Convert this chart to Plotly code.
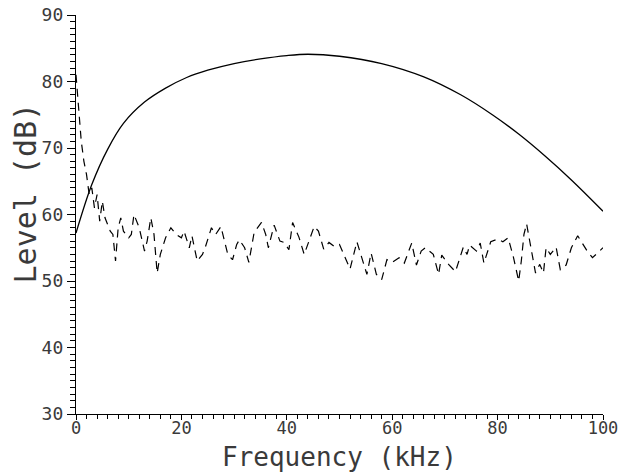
import plotly.graph_objects as go

# Solid curve (signal level)
sig_freq = [0, 3, 6, 9, 13, 17, 21, 25, 30, 35, 40, 44, 50, 58, 66, 73, 79, 84, 89, 94, 100]
sig_level = [57.2, 64.5, 69.8, 73.7, 76.9, 79.0, 80.6, 81.7, 82.7, 83.4, 83.9, 84.1, 83.8,
             82.7, 80.7, 78.0, 75.0, 72.1, 68.8, 65.2, 60.5]

# Dashed curve (noise level)
noise_freq = [0, 0.5, 1, 1.5, 2, 2.5, 3, 3.5, 4, 4.5, 5, 5.5, 6, 6.5, 7, 7.5, 8, 8.5, 9, 10,
              10.5, 11, 12, 13, 13.5, 14.2, 14.8, 15.4, 16, 17, 18, 19, 20, 20.5, 21.5, 22,
              23, 24, 24.5, 25.7, 26.5, 27.5, 28.8, 29.7, 30.5, 31, 32, 32.8, 33.8, 35.2, 36,
              36.5, 37.6, 38.7, 39.5, 40.4, 41.1, 42.3, 43.3, 44.2, 45.2, 46, 47, 48, 49, 50,
              51, 52, 53.3, 54.5, 55.2, 56, 57, 58, 59, 60, 61.3, 62.3, 63.7, 64.6, 65.5, 66.3,
              67.8, 68.8, 69.4, 70.7, 72, 73.5, 74.2, 74.7, 76, 76.7, 77.4, 78.7, 80, 81, 82,
              83, 84, 84.5, 85, 85.5, 86.5, 87.2, 88, 88.7, 89.2, 90, 91.1, 91.9, 93, 94, 95.2,
              96, 97, 98, 99, 100]
noise_level = [81, 76, 71, 68, 66, 63, 64, 61, 63, 59, 62, 59.5, 58.5, 57.5, 57, 53, 58, 59.5,
               57.5, 56.5, 57, 60, 58, 54.5, 56, 59.5, 57, 51.2, 54, 56.5, 58, 57, 56.5, 57.5,
               55, 56.8, 53, 54, 55, 58, 57, 58.2, 54, 53.2, 55.5, 56.2, 55, 52.8, 57.3, 58.8,
               57, 55, 58.4, 56, 55.8, 54.7, 58.8, 56.6, 54, 55.9, 58.2, 57.5, 54.8, 55.8, 55.2,
               55.5, 53.5, 51.8, 55.9, 52.7, 51, 54.2, 51, 50.2, 53.2, 52.8, 53.5, 52.7, 55.7,
               52.4, 54.5, 55, 54, 51, 53.9, 52.5, 51.4, 55.1, 54, 55.4, 54.5, 55.7, 52.7, 55.9,
               56.3, 55.9, 56.5, 53.6, 50, 53, 57, 58.6, 54, 51.2, 52.5, 51.2, 55, 54, 55.1,
               51.7, 52.4, 55, 56.8, 55.7, 54.5, 53.5, 54.2, 55]

x_ticks = [0, 20, 40, 60, 80, 100]
y_ticks = [30, 40, 50, 60, 70, 80, 90]
x_title = "Frequency (kHz)"
y_title = "Level (dB)"

FONT = "DejaVu Sans Mono"
TXT = "#3a3a3a"

fig = go.Figure()
fig.add_trace(go.Scatter(x=sig_freq, y=sig_level, mode="lines",
                         line=dict(color="black", width=1.3, shape="spline", smoothing=1.0),
                         showlegend=False, hoverinfo="skip"))
fig.add_trace(go.Scatter(x=noise_freq, y=noise_level, mode="lines",
                         line=dict(color="black", width=1.2, dash="8px,6px"),
                         showlegend=False, hoverinfo="skip"))

fig.update_layout(
    width=628, height=472,
    margin=dict(l=76, r=25, t=15, b=58, autoexpand=False),
    paper_bgcolor="white", plot_bgcolor="white",
    font=dict(family=FONT, color=TXT),
    annotations=[
        dict(text=x_title, xref="paper", yref="paper", x=0.5, y=-0.109,
             xanchor="center", yanchor="middle", showarrow=False,
             font=dict(family=FONT, size=26, color=TXT)),
        dict(text=y_title, xref="paper", yref="paper", x=-0.095, y=0.555,
             xanchor="center", yanchor="middle", textangle=-90, showarrow=False,
             font=dict(family=FONT, size=30, color=TXT)),
    ],
)
fig.update_xaxes(
    range=[0, 100], tickvals=x_ticks, ticktext=[str(v) for v in x_ticks],
    showgrid=False, zeroline=False, showline=True, linecolor="black", linewidth=1.3,
    ticks="outside", ticklen=5, tickwidth=1.2, tickcolor="black", automargin=False,
    ticklabelstandoff=-7,
    minor=dict(dtick=2, ticks="outside", ticklen=4, tickwidth=1, tickcolor="black", showgrid=False),
    tickfont=dict(family=FONT, size=17, color=TXT),
)
fig.update_yaxes(
    range=[30, 90], tickvals=y_ticks, ticktext=[str(v) for v in y_ticks],
    showgrid=False, zeroline=False, showline=True, linecolor="black", linewidth=1.3,
    ticks="outside", ticklen=8, tickwidth=1.2, tickcolor="black", automargin=False,
    minor=dict(dtick=1, ticks="outside", ticklen=5, tickwidth=1, tickcolor="black", showgrid=False),
    tickfont=dict(family=FONT, size=18, color=TXT),
)

fig.write_html("out.html")
